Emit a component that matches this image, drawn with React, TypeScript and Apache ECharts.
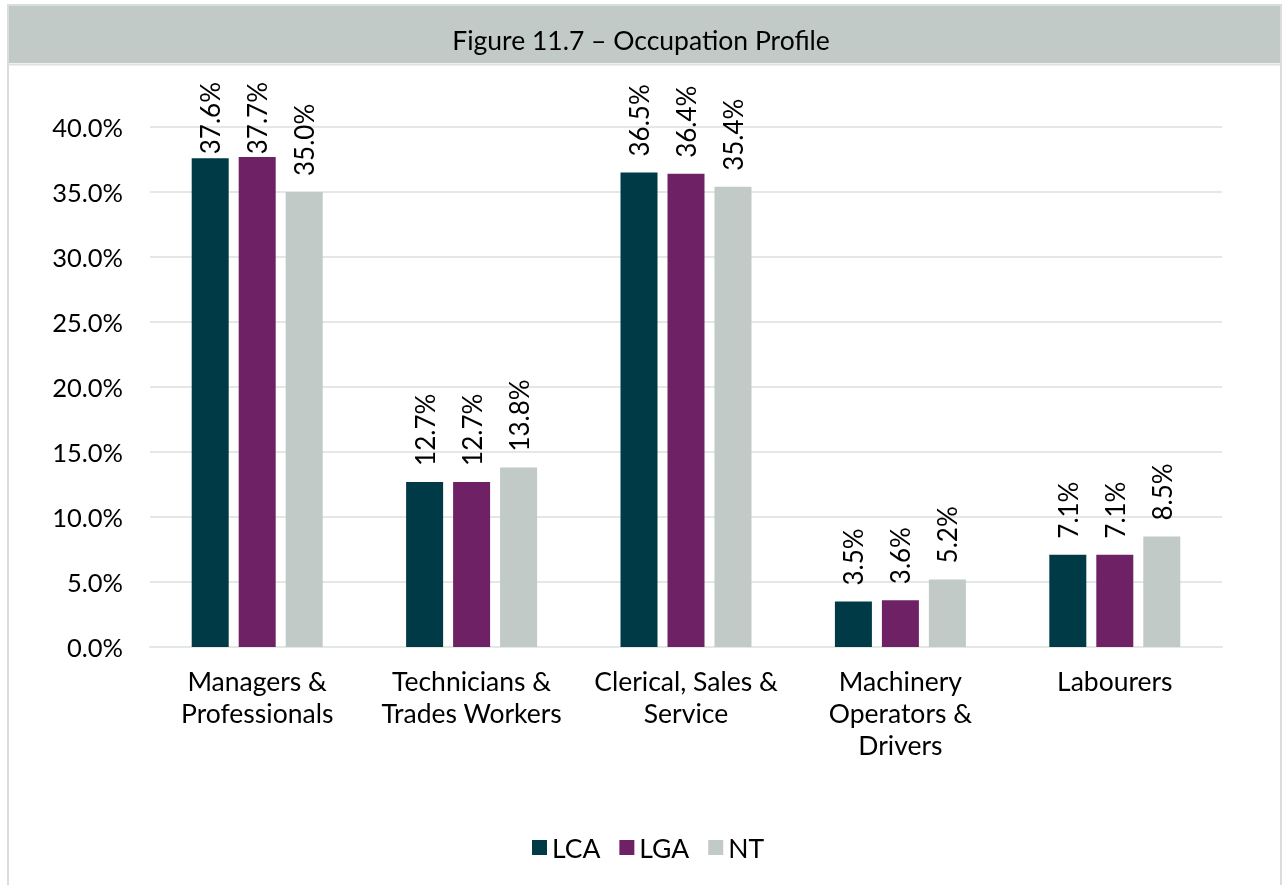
import React, { useEffect, useRef } from "react";
import * as echarts from "echarts";

const categories = [
  "Managers &\nProfessionals",
  "Technicians &\nTrades Workers",
  "Clerical, Sales &\nService",
  "Machinery\nOperators &\nDrivers",
  "Labourers",
];
const lcaValues = [37.6, 12.7, 36.5, 3.5, 7.1];
const lgaValues = [37.7, 12.7, 36.4, 3.6, 7.1];
const ntValues = [35.0, 13.8, 35.4, 5.2, 8.5];
const seriesNames = ["LCA", "LGA", "NT"];
const colors = ["#013a47", "#6f2166", "#c1cac6"];
const title = "Figure 11.7 – Occupation Profile";

const FONT = "Lato, 'Open Sans', sans-serif";
const LABEL_SIZE = 26;
const LABEL_DIST = 16;
const LABEL_TOP_LIMIT = 82;

const fmt = (v: number) => v.toFixed(1) + "%";

export default function App() {
  const ref = useRef<HTMLDivElement>(null);
  useEffect(() => {
    if (!ref.current) return;
    const chart = echarts.init(ref.current, null, { renderer: "svg" });
    const values = [lcaValues, lgaValues, ntValues];
    const labelBase = {
      show: true,
      position: "top",
      rotate: 90,
      align: "left",
      verticalAlign: "middle",
      distance: LABEL_DIST,
      fontSize: LABEL_SIZE,
      color: "#000",
      fontFamily: FONT,
      formatter: (p: any) => fmt(p.value),
    };
    chart.setOption({
      animation: false,
      textStyle: { fontFamily: FONT },
      graphic: [
        {
          type: "rect",
          shape: { x: 8, y: 5, width: 1273, height: 900 },
          style: { fill: "#fff", stroke: "#d9dedb", lineWidth: 2 },
          z: -10,
        },
        {
          type: "rect",
          shape: { x: 9, y: 6, width: 1271, height: 57 },
          style: { fill: "#c1cac6" },
          z: -5,
        },
        {
          type: "line",
          shape: { x1: 9, y1: 64.5, x2: 1280, y2: 64.5 },
          style: { stroke: "#dde2df", lineWidth: 2 },
          z: -5,
        },
        {
          type: "text",
          x: 641,
          y: 40,
          style: {
            text: title,
            fontFamily: FONT,
            fontSize: 26.5,
            fill: "#000",
            align: "center",
            verticalAlign: "middle",
          },
        },
      ],
      grid: { left: 150, right: 60, top: 127, bottom: 238, containLabel: false },
      legend: {
        data: seriesNames,
        top: 829,
        left: 527,
        itemWidth: 15,
        itemHeight: 15,
        itemGap: 19,
        icon: "rect",
        textStyle: { fontSize: 26.5, color: "#000", fontFamily: FONT },
      },
      xAxis: {
        type: "category",
        data: categories,
        axisLine: { lineStyle: { color: "#e3e8e5", width: 2 } },
        axisTick: { show: false },
        axisLabel: {
          fontSize: 26.5,
          color: "#000",
          fontFamily: FONT,
          lineHeight: 32,
          margin: 18,
          interval: 0,
        },
      },
      yAxis: {
        type: "value",
        min: 0,
        max: 40,
        interval: 5,
        axisLine: { show: false },
        axisTick: { show: false },
        splitLine: { lineStyle: { color: "#e3e8e5", width: 2 } },
        axisLabel: {
          fontSize: 25.5,
          color: "#000",
          fontFamily: FONT,
          margin: 27,
          formatter: (v: number) => fmt(v),
        },
      },
      series: seriesNames.map((name, i) => ({
        name,
        type: "bar",
        data: values[i],
        barWidth: 37,
        barGap: "27%",
        itemStyle: { color: colors[i] },
        label: labelBase,
      })),
    });

    // Keep labels inside the chart area (like the original): clamp their top end.
    const canvas = document.createElement("canvas");
    const ctx = canvas.getContext("2d");
    if (ctx) ctx.font = `${LABEL_SIZE}px ${FONT}`;
    chart.setOption({
      series: seriesNames.map((name, i) => ({
        name,
        data: values[i].map((v, j) => {
          const pt = chart.convertToPixel({ gridIndex: 0 }, [j, v]) as number[];
          const w = ctx ? ctx.measureText(fmt(v)).width : 68;
          const room = pt[1] - LABEL_TOP_LIMIT - w;
          const d = Math.min(LABEL_DIST, Math.max(2, room));
          return d < LABEL_DIST ? { value: v, label: { distance: d } } : v;
        }),
      })),
    });
    return () => chart.dispose();
  }, []);
  return (
    <div
      ref={ref}
      style={{ position: "fixed", left: 0, top: 0, width: 1282, height: 885 }}
    />
  );
}
